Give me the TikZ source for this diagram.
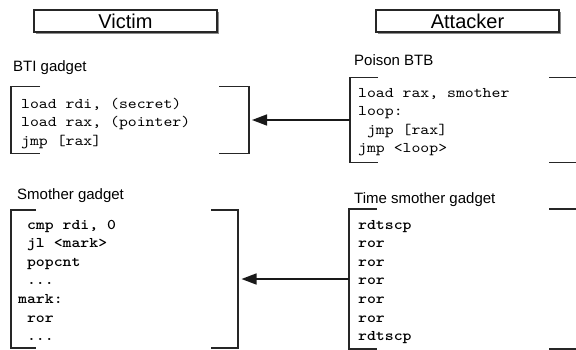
\documentclass[tikz,border=0pt]{standalone}
\usepackage{fontspec}
\setmainfont{Liberation Sans}
\newfontfamily\codefont{lmmono10-regular.otf}[FakeStretch=1.145]
\newfontfamily\codeboldfont{lmmonolt10-bold.otf}[FakeStretch=1.145]
\newcommand\mydots{...}
\usetikzlibrary{arrows.meta,shadows}
\begin{document}
\begin{tikzpicture}[x=1pt,y=-1pt,
  bline/.style={line width=1.5pt, draw=black!85},
  arr/.style={line width=1.5pt, draw=black!90, -{Triangle[length=15pt,width=11pt]}},
  titlebox/.style={draw=black!85, line width=1.3pt, fill=white, minimum width=183pt, minimum height=22pt,
    inner sep=0pt, font=\fontsize{20}{24}\selectfont,
    drop shadow={shadow xshift=1.6pt, shadow yshift=-1.6pt, fill=black!45, opacity=1}},
  glabel/.style={inner sep=0pt, anchor=base west, font=\fontsize{15}{18}\selectfont},
  gbox/.style={draw=none, inner sep=0pt, outer sep=0pt},
  code/.style={inner sep=0pt, anchor=base west, font=\codefont\fontsize{14.8}{18}\selectfont},
  codeb/.style={inner sep=0pt, anchor=base west, font=\codeboldfont\fontsize{14.8}{18}\selectfont}]
\useasboundingbox (0,0) rectangle (576,349);

% titles
\node[titlebox] (victim) at (125.5,21) {Victim};
\node[titlebox] (attacker) at (467.5,21) {Attacker};

% labels
\node[glabel] (lbti) at (13,71) {BTI gadget};
\node[glabel] (lpoison) at (354,65) {Poison BTB};
\node[glabel] (lsmother) at (17,199) {Smother gadget};
\node[glabel] (ltime) at (354,203) {Time smother gadget};

% gadget frames
\node[gbox, minimum width=238pt, minimum height=67pt] (bti) at (130,120) {};
\node[gbox, minimum width=250pt, minimum height=85pt] (poison) at (475,120) {};
\node[gbox, minimum width=227pt, minimum height=138pt] (smother) at (124.5,279) {};
\node[gbox, minimum width=251pt, minimum height=140pt] (timesm) at (474.5,279) {};

\draw[bline] ([xshift=29pt]bti.north west) -- (bti.north west) -- (bti.south west) -- ++(29,0);
\draw[bline] ([xshift=-30pt]bti.north east) -- (bti.north east) -- (bti.south east) -- ++(-30,0);

\draw[bline] ([xshift=28pt]poison.north west) -- (poison.north west) -- (poison.south west) -- ++(28,0);
\draw[bline] ([xshift=-51pt]poison.north east) -- (poison.north east) -- (poison.south east) -- ++(-51,0);

\draw[bline] ([xshift=25pt]smother.north west) -- (smother.north west) -- (smother.south west) -- ++(25,0);
\draw[bline] ([xshift=-27pt]smother.north east) -- (smother.north east) -- (smother.south east) -- ++(-27,0);

\draw[bline] ([xshift=28pt]timesm.north west) -- (timesm.north west) -- (timesm.south west) -- ++(28,0);
\draw[bline] ([xshift=-51pt]timesm.north east) -- (timesm.north east) -- (timesm.south east) -- ++(-51,0);

% code
\foreach \t [count=\i] in {{load rdi, (secret)},{load rax, (pointer)},{jmp [rax]}}
  \node[code] (bti\i) at (21,{108+18.6*(\i-1)}) {\t};
\foreach \t [count=\i] in {{load rax, smother},{loop:},{\phantom{x}jmp [rax]},{jmp <loop>}}
  \node[code] (poison\i) at (358,{97+18.6*(\i-1)}) {\t};
\foreach \t [count=\i] in {{\phantom{x}cmp rdi, 0},{\phantom{x}jl <mark>},{\phantom{x}popcnt},{\phantom{x}\mydots},{mark:},{\phantom{x}ror},{\phantom{x}\mydots}}
  \node[codeb] (smother\i) at (18,{229+18.6*(\i-1)}) {\t};
\foreach \t [count=\i] in {rdtscp,ror,ror,ror,ror,ror,rdtscp}
  \node[codeb] (timesm\i) at (358,{229+18.6*(\i-1)}) {\t};

% arrows
\draw[arr] (poison.west) -- ([xshift=3pt]bti.east);
\draw[arr] (timesm.west) -- ([xshift=3.5pt]smother.east);
\end{tikzpicture}
\end{document}
